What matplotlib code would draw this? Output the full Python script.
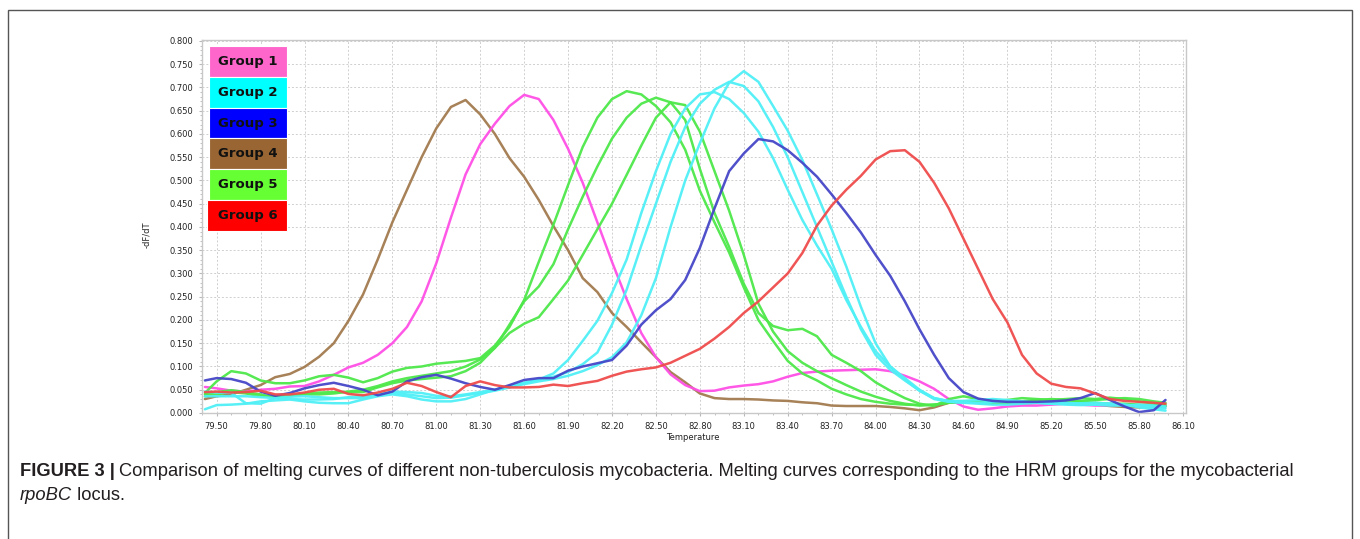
import numpy as np
import matplotlib
matplotlib.use("Agg")
import matplotlib.pyplot as plt
from matplotlib.patches import Rectangle
from matplotlib.ticker import MultipleLocator, FormatStrFormatter

# melting temperature grid (deg C)
temps = [79.42, 79.50, 79.60, 79.70, 79.80, 79.90, 80.00, 80.10, 80.20, 80.30,
         80.40, 80.50, 80.60, 80.70, 80.80, 80.90, 81.00, 81.10, 81.20, 81.30,
         81.40, 81.50, 81.60, 81.70, 81.80, 81.90, 82.00, 82.10, 82.20, 82.30,
         82.40, 82.50, 82.60, 82.70, 82.80, 82.90, 83.00, 83.10, 83.20, 83.30,
         83.40, 83.50, 83.60, 83.70, 83.80, 83.90, 84.00, 84.10, 84.20, 84.30,
         84.40, 84.50, 84.60, 84.70, 84.80, 84.90, 85.00, 85.10, 85.20, 85.30,
         85.40, 85.50, 85.60, 85.70, 85.80, 85.90, 85.98]

# -dF/dT per sample
g1 = [0.056, 0.053, 0.048, 0.046, 0.050, 0.052, 0.057, 0.058, 0.068, 0.082,
      0.098, 0.108, 0.125, 0.150, 0.185, 0.240, 0.322, 0.420, 0.513, 0.578,
      0.622, 0.660, 0.684, 0.675, 0.630, 0.568, 0.495, 0.410, 0.325, 0.245,
      0.172, 0.120, 0.083, 0.060, 0.047, 0.048, 0.055, 0.059, 0.062, 0.068,
      0.078, 0.086, 0.089, 0.091, 0.092, 0.093, 0.094, 0.090, 0.080, 0.068,
      0.052, 0.030, 0.014, 0.007, 0.010, 0.014, 0.016, 0.016, 0.018, 0.020,
      0.018, 0.016, 0.017, 0.018, 0.016, 0.015, 0.015]

g2a = [0.008, 0.017, 0.018, 0.020, 0.025, 0.027, 0.029, 0.025, 0.022, 0.021,
       0.021, 0.029, 0.036, 0.040, 0.036, 0.029, 0.025, 0.025, 0.030, 0.040,
       0.050, 0.058, 0.065, 0.072, 0.085, 0.114, 0.155, 0.198, 0.258, 0.330,
       0.430, 0.520, 0.600, 0.655, 0.685, 0.690, 0.675, 0.645, 0.605, 0.548,
       0.480, 0.415, 0.360, 0.310, 0.243, 0.185, 0.133, 0.100, 0.075, 0.050,
       0.032, 0.025, 0.022, 0.022, 0.024, 0.025, 0.024, 0.022, 0.020, 0.020,
       0.021, 0.022, 0.020, 0.018, 0.015, 0.012, 0.010]
g2b = [0.046, 0.044, 0.043, 0.021, 0.020, 0.032, 0.035, 0.036, 0.034, 0.032,
       0.032, 0.032, 0.041, 0.043, 0.040, 0.036, 0.032, 0.033, 0.038, 0.043,
       0.048, 0.055, 0.064, 0.072, 0.078, 0.088, 0.105, 0.130, 0.190, 0.265,
       0.360, 0.450, 0.540, 0.615, 0.665, 0.695, 0.712, 0.703, 0.670, 0.615,
       0.550, 0.475, 0.400, 0.325, 0.250, 0.180, 0.125, 0.093, 0.070, 0.048,
       0.032, 0.026, 0.026, 0.028, 0.030, 0.028, 0.025, 0.022, 0.020, 0.018,
       0.017, 0.018, 0.020, 0.018, 0.012, 0.008, 0.005]
g2c = [0.036, 0.036, 0.036, 0.036, 0.034, 0.032, 0.030, 0.029, 0.029, 0.030,
       0.034, 0.036, 0.040, 0.046, 0.045, 0.043, 0.037, 0.036, 0.040, 0.045,
       0.050, 0.056, 0.062, 0.068, 0.073, 0.080, 0.090, 0.103, 0.120, 0.152,
       0.210, 0.290, 0.400, 0.500, 0.580, 0.655, 0.710, 0.735, 0.712, 0.660,
       0.607, 0.544, 0.470, 0.395, 0.315, 0.228, 0.150, 0.100, 0.072, 0.048,
       0.030, 0.024, 0.022, 0.020, 0.018, 0.018, 0.020, 0.022, 0.024, 0.022,
       0.020, 0.018, 0.016, 0.016, 0.018, 0.016, 0.014]

g3 = [0.070, 0.075, 0.073, 0.065, 0.046, 0.037, 0.043, 0.053, 0.060, 0.065,
      0.058, 0.050, 0.038, 0.046, 0.068, 0.077, 0.082, 0.074, 0.064, 0.056,
      0.050, 0.060, 0.071, 0.075, 0.075, 0.091, 0.100, 0.107, 0.114, 0.145,
      0.190, 0.221, 0.245, 0.286, 0.355, 0.440, 0.520, 0.558, 0.589, 0.584,
      0.565, 0.538, 0.508, 0.470, 0.430, 0.388, 0.340, 0.295, 0.240, 0.180,
      0.125, 0.075, 0.045, 0.031, 0.026, 0.024, 0.024, 0.024, 0.025, 0.027,
      0.032, 0.043, 0.028, 0.014, 0.002, 0.006, 0.028]

g4 = [0.030, 0.036, 0.040, 0.050, 0.060, 0.077, 0.084, 0.099, 0.121, 0.150,
      0.198, 0.255, 0.330, 0.410, 0.480, 0.550, 0.612, 0.658, 0.673, 0.642,
      0.600, 0.548, 0.508, 0.458, 0.402, 0.350, 0.290, 0.260, 0.215, 0.185,
      0.152, 0.120, 0.088, 0.066, 0.042, 0.032, 0.030, 0.030, 0.029, 0.027,
      0.026, 0.023, 0.021, 0.016, 0.015, 0.015, 0.015, 0.013, 0.010, 0.006,
      0.012, 0.022, 0.024, 0.022, 0.020, 0.021, 0.020, 0.022, 0.024, 0.022,
      0.020, 0.018, 0.015, 0.013, 0.012, 0.013, 0.014]

g5a = [0.043, 0.068, 0.090, 0.085, 0.070, 0.064, 0.064, 0.070, 0.079, 0.082,
       0.076, 0.066, 0.075, 0.089, 0.097, 0.100, 0.106, 0.109, 0.112, 0.118,
       0.145, 0.185, 0.243, 0.325, 0.405, 0.490, 0.572, 0.635, 0.675, 0.692,
       0.685, 0.660, 0.625, 0.566, 0.478, 0.410, 0.345, 0.270, 0.200, 0.155,
       0.112, 0.085, 0.070, 0.052, 0.040, 0.030, 0.024, 0.020, 0.018, 0.017,
       0.018, 0.022, 0.025, 0.026, 0.028, 0.025, 0.022, 0.022, 0.024, 0.025,
       0.024, 0.022, 0.020, 0.020, 0.018, 0.016, 0.015]
g5b = [0.040, 0.045, 0.049, 0.045, 0.040, 0.033, 0.036, 0.042, 0.044, 0.045,
       0.045, 0.045, 0.055, 0.064, 0.070, 0.073, 0.076, 0.079, 0.090, 0.108,
       0.140, 0.190, 0.240, 0.272, 0.320, 0.395, 0.465, 0.530, 0.590, 0.635,
       0.665, 0.678, 0.668, 0.630, 0.525, 0.430, 0.357, 0.278, 0.215, 0.187,
       0.178, 0.181, 0.165, 0.125, 0.108, 0.090, 0.066, 0.048, 0.032, 0.020,
       0.015, 0.030, 0.036, 0.030, 0.025, 0.028, 0.032, 0.030, 0.028, 0.030,
       0.032, 0.030, 0.033, 0.030, 0.025, 0.020, 0.018]
g5c = [0.036, 0.040, 0.045, 0.042, 0.036, 0.036, 0.038, 0.040, 0.040, 0.042,
       0.046, 0.050, 0.058, 0.068, 0.075, 0.080, 0.085, 0.090, 0.100, 0.115,
       0.140, 0.172, 0.192, 0.206, 0.245, 0.285, 0.340, 0.395, 0.450, 0.512,
       0.575, 0.635, 0.668, 0.662, 0.605, 0.520, 0.435, 0.340, 0.235, 0.175,
       0.133, 0.108, 0.090, 0.075, 0.060, 0.046, 0.035, 0.026, 0.020, 0.016,
       0.018, 0.022, 0.025, 0.022, 0.020, 0.022, 0.025, 0.028, 0.030, 0.028,
       0.026, 0.028, 0.030, 0.032, 0.030, 0.025, 0.022]

g6 = [0.045, 0.046, 0.044, 0.045, 0.048, 0.040, 0.040, 0.044, 0.050, 0.052,
      0.041, 0.038, 0.044, 0.052, 0.065, 0.058, 0.045, 0.034, 0.058, 0.068,
      0.060, 0.055, 0.055, 0.056, 0.061, 0.058, 0.064, 0.069, 0.080, 0.089,
      0.094, 0.098, 0.108, 0.123, 0.138, 0.160, 0.185, 0.215, 0.240, 0.270,
      0.300, 0.344, 0.403, 0.446, 0.480, 0.510, 0.545, 0.563, 0.565, 0.540,
      0.495, 0.440, 0.375, 0.310, 0.245, 0.195, 0.125, 0.085, 0.063, 0.056,
      0.053, 0.042, 0.030, 0.026, 0.024, 0.022, 0.020]

groups = ["Group 1", "Group 2", "Group 3", "Group 4", "Group 5", "Group 6"]
box_colors = ["#ff66cc", "#00ffff", "#0000ff", "#996633", "#66ff33", "#ff0000"]
line_colors = ["#ff4fe6", "#4ff0f6", "#4646c8", "#a27a4e", "#4ee84a", "#f04c4c"]
samples = [(g4, 3), (g1, 0), (g5a, 4), (g5b, 4), (g5c, 4), (g2a, 1), (g2b, 1),
           (g2c, 1), (g3, 2), (g6, 5)]

W, H = 1360, 539
fig = plt.figure(figsize=(W / 100, H / 100), dpi=100)
ax = fig.add_axes([202 / W, 1 - 413 / H, (1186 - 202) / W, (413 - 40) / H])

for vals, gi in samples:
    ax.plot(temps, vals, color=line_colors[gi], lw=1.8, alpha=0.95,
            solid_joinstyle="round", solid_capstyle="round")

ax.set_xlim(79.40, 86.12)
ax.set_ylim(0, 0.802)
ax.xaxis.set_major_locator(MultipleLocator(0.3))
ax.xaxis.set_minor_locator(MultipleLocator(0.1))
ax.yaxis.set_major_locator(MultipleLocator(0.05))
ax.yaxis.set_minor_locator(MultipleLocator(0.01))
ax.xaxis.set_major_formatter(FormatStrFormatter("%.2f"))
ax.yaxis.set_major_formatter(FormatStrFormatter("%.3f"))
ax.set_axisbelow(True)
ax.grid(which="major", color="#cfcfcf", linestyle=(0, (2, 2)), lw=0.7)
for s in ax.spines.values():
    s.set_color("#c8c8c8")
    s.set_linewidth(1)
ax.tick_params(which="both", color="#b8b8b8", labelcolor="#222222",
               labelsize=6.0, direction="out")
ax.tick_params(which="major", length=2.5, pad=4)
ax.tick_params(which="minor", length=1.5)

fig.text(693 / W, 1 - 438 / H, "Temperature", fontsize=6.0, color="#222222",
         ha="center", va="center")
fig.text(147 / W, 1 - 235 / H, "-dF/dT", fontsize=6.0, color="#222222",
         ha="center", va="center", rotation=90)

# group key boxes
bh = 30.8
for i, (name, c) in enumerate(zip(groups, box_colors)):
    top = 46 + i * bh
    x0 = 207 if i == 5 else 209
    fig.add_artist(Rectangle((x0 / W, 1 - (top + bh) / H), (287 - x0) / W, bh / H,
                             transform=fig.transFigure, fc=c, ec="white", lw=0.8))
    fig.text(248 / W, 1 - (top + bh / 2) / H, name, fontsize=9.5,
             fontweight="bold", color="#111111", ha="center", va="center")

# outer frame
fig.add_artist(Rectangle((8 / W, -0.05), (1352 - 8) / W, (H - 10) / H + 0.05,
                         transform=fig.transFigure, fill=False,
                         ec="#555555", lw=1))

# caption
cap = dict(fontsize=13.2, family="Liberation Sans", color="#231f20", va="baseline")
renderer = fig.canvas.get_renderer()
t1 = fig.text(20 / W, 1 - 476 / H, "FIGURE 3 |", fontweight="bold", **cap)
x1 = t1.get_window_extent(renderer).x1 / fig.bbox.width
fig.text(x1 + 4 / W, 1 - 476 / H,
         "Comparison of melting curves of different non-tuberculosis mycobacteria. "
         "Melting curves corresponding to the HRM groups for the mycobacterial", **cap)
t2 = fig.text(20 / W, 1 - 500 / H, "rpoBC", style="italic", **cap)
x2 = t2.get_window_extent(renderer).x1 / fig.bbox.width
fig.text(x2, 1 - 500 / H, " locus.", **cap)

fig.savefig("out.png", dpi=100)
